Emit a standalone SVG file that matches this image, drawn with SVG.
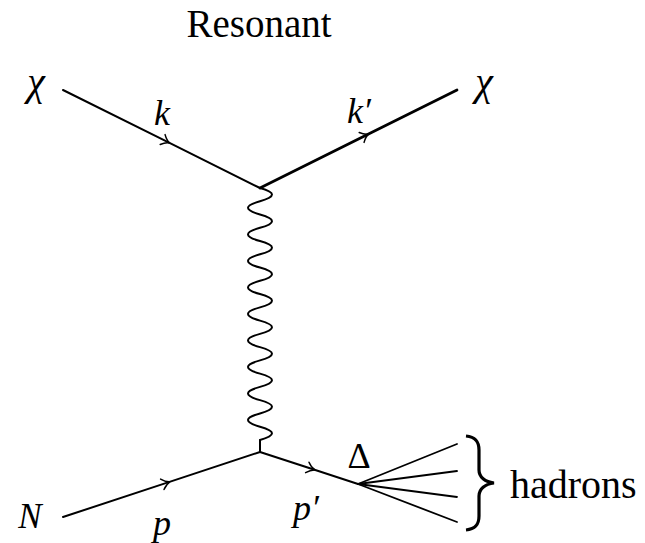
<svg xmlns="http://www.w3.org/2000/svg" width="645" height="543" viewBox="0 0 645 543">
<style>
.ln{fill:none;stroke:#000;stroke-width:2;stroke-linecap:round}
.thick{stroke-width:2.8}
.rm{font-family:"Liberation Serif","Times New Roman",serif;fill:#000}
</style>
<defs>
<marker id="arr" viewBox="-10 -10 20 20" markerWidth="20" markerHeight="20" refX="0" refY="0" orient="auto" markerUnits="userSpaceOnUse">
<path d="M-6,-5.5 Q-2,-1 2,0 Q-2,1 -6,5.5" fill="none" stroke="#000" stroke-width="1.5" stroke-linecap="round"/>
</marker>
</defs>
<rect width="645" height="543" fill="#fff"/>
<g id="title"><text class="rm" x="259" y="37" font-size="39" text-anchor="middle">Resonant</text></g>
<g id="connectors">
<path id="e-k" class="ln" d="M63,90 L168,142.2 L260,188" marker-mid="url(#arr)"/>
<path id="e-kp" class="ln thick" d="M260,188 L367,134.8 L457,90" marker-mid="url(#arr)"/>
<path id="e-photon" class="ln" d="M260,188 c16,4.4 16,8.8 0,13.26 c-16,4.4 -16,8.8 0,13.26 c16,4.4 16,8.8 0,13.26 c-16,4.4 -16,8.8 0,13.26 c16,4.4 16,8.8 0,13.26 c-16,4.4 -16,8.8 0,13.26 c16,4.4 16,8.8 0,13.26 c-16,4.4 -16,8.8 0,13.26 c16,4.4 16,8.8 0,13.26 c-16,4.4 -16,8.8 0,13.26 c16,4.4 16,8.8 0,13.26 c-16,4.4 -16,8.8 0,13.26 c16,4.4 16,8.8 0,13.26 c-16,4.4 -16,8.8 0,13.26 c16,4.4 16,8.8 0,13.26 c-16,4.4 -16,8.8 0,13.26 c16,4.4 16,8.8 0,13.26 c-16,4.4 -16,8.8 0,13.26 c16,4.4 16,8.8 0,13.26 L260,452"/>
<path id="e-p" class="ln" d="M63,517 L168,482.4 L260,452" marker-mid="url(#arr)"/>
<path id="e-pp" class="ln" d="M260,452 L313,469.3 L358,484" marker-mid="url(#arr)"/>
<g id="e-hadrons" class="ln" style="stroke-width:1.8">
<line x1="358" y1="484" x2="457" y2="444"/>
<line x1="358" y1="484" x2="457" y2="471"/>
<line x1="358" y1="484" x2="457" y2="497"/>
<line x1="358" y1="484" x2="457" y2="522"/>
</g>
</g>
<g id="chi-in"><text x="36" y="95" font-family="Liberation Serif" font-style="italic" font-size="40" text-anchor="middle">χ</text></g>
<g id="label-k"><text x="162" y="125" font-family="Liberation Serif" font-style="italic" font-size="36" text-anchor="middle">k</text></g>
<g id="label-kp"><text x="359" y="123" font-family="Liberation Serif" font-style="italic" font-size="36" text-anchor="middle">k′</text></g>
<g id="chi-out"><text x="484" y="95" font-family="Liberation Serif" font-style="italic" font-size="40" text-anchor="middle">χ</text></g>
<g id="N"><text x="30" y="528" font-family="Liberation Serif" font-style="italic" font-size="35" text-anchor="middle">N</text></g>
<g id="label-p"><text x="162" y="535" font-family="Liberation Serif" font-style="italic" font-size="36" text-anchor="middle">p</text></g>
<g id="label-pp"><text x="306" y="520" font-family="Liberation Serif" font-style="italic" font-size="36" text-anchor="middle">p′</text></g>
<g id="Delta"><text class="rm" x="359" y="468" font-size="36" text-anchor="middle">Δ</text></g>
<g id="hadrons">
<path d="M466,436 C476,437 479,442 479,450 L479,470 C479,477 485,482 494,483 C485,484 479,489 479,496 L479,516 C479,524 476,529 466,530" fill="none" stroke="#000" stroke-width="3.2"/>
<text class="rm" x="510" y="498" font-size="40">hadrons</text>
</g>
</svg>
